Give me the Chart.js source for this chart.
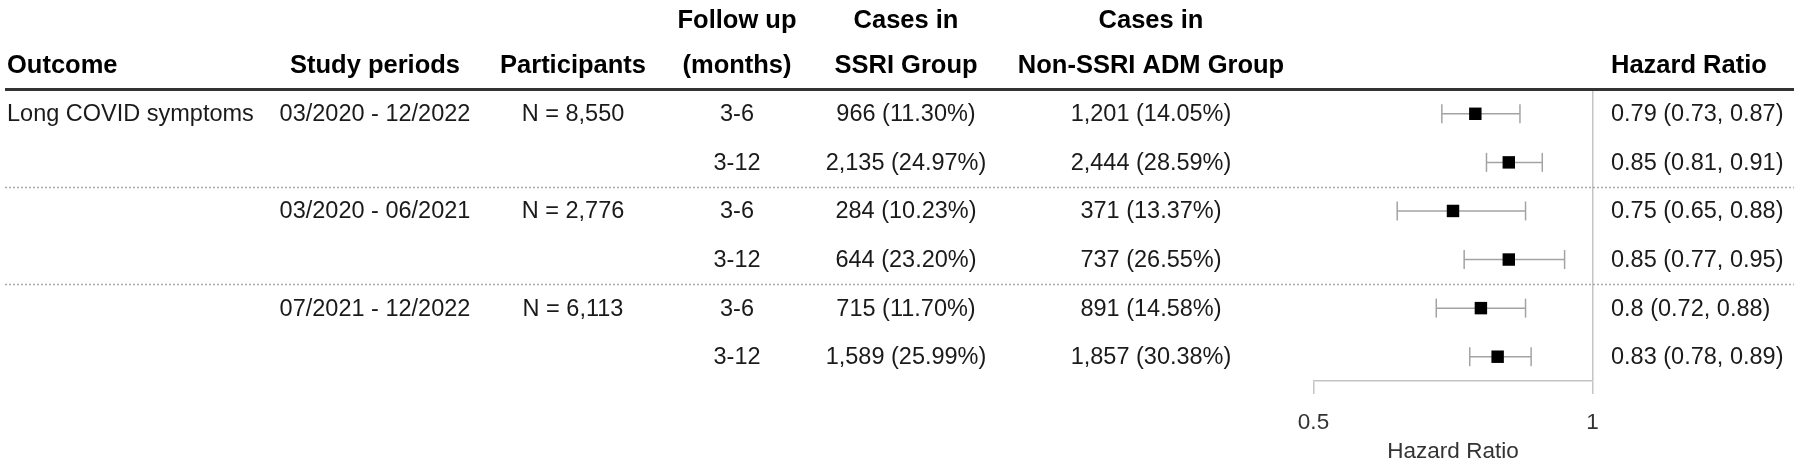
<!DOCTYPE html>
<html><head><meta charset="utf-8">
<script src="https://cdn.jsdelivr.net/npm/chart.js@4/dist/chart.umd.min.js"></script>
<style>html,body{margin:0;padding:0;background:#fff;} #wrap{width:1800px;height:464px;}</style>
</head><body><div id="wrap"><canvas id="c" width="1800" height="464"></canvas></div>
<script>
// ---- data ----
const outcomes = ['Long COVID symptoms', '', '', '', '', ''];
const studyPeriods = ['03/2020 - 12/2022', '', '03/2020 - 06/2021', '', '07/2021 - 12/2022', ''];
const participants = ['N = 8,550', '', 'N = 2,776', '', 'N = 6,113', ''];
const followUp = ['3-6', '3-12', '3-6', '3-12', '3-6', '3-12'];
const casesSSRI = ['966 (11.30%)', '2,135 (24.97%)', '284 (10.23%)', '644 (23.20%)', '715 (11.70%)', '1,589 (25.99%)'];
const casesNonSSRI = ['1,201 (14.05%)', '2,444 (28.59%)', '371 (13.37%)', '737 (26.55%)', '891 (14.58%)', '1,857 (30.38%)'];
const hazardRatio = [0.79, 0.85, 0.75, 0.85, 0.8, 0.83];
const ciLower = [0.73, 0.81, 0.65, 0.77, 0.72, 0.78];
const ciUpper = [0.87, 0.91, 0.88, 0.95, 0.88, 0.89];
const xTicks = [0.5, 1];
const xTitle = 'Hazard Ratio';
const headerLine1 = ['', '', '', 'Follow up', 'Cases in', 'Cases in', ''];
const headerLine2 = ['Outcome', 'Study periods', 'Participants', '(months)', 'SSRI Group', 'Non-SSRI ADM Group', 'Hazard Ratio'];
const separatorsAfter = [2, 4];

// ---- layout / style ----
const FONT = '"Liberation Sans", Arial, Helvetica, sans-serif';
const colX = [7, 375, 573, 737, 906, 1151, 1611];
const colAlign = ['left', 'center', 'center', 'center', 'center', 'center', 'left'];
const rowIdx = hazardRatio.map((_, i) => i + 1);
const hrText = hazardRatio.map((v, i) => `${v} (${ciLower[i]}, ${ciUpper[i]})`);
const columns = [outcomes, studyPeriods, participants, followUp, casesSSRI, casesNonSSRI, hrText];

const tablePlugin = {
  id: 'tablePlugin',
  beforeDatasetsDraw(chart) {
    const ctx = chart.ctx, y = chart.scales.y;
    ctx.save();
    ctx.strokeStyle = '#a8a8a8';
    ctx.lineWidth = 1.5;
    ctx.setLineDash([2, 2]);
    separatorsAfter.forEach(r => {
      const py = Math.round(y.getPixelForValue(r + 0.5)) + 0.5;
      ctx.beginPath(); ctx.moveTo(5, py); ctx.lineTo(1794, py); ctx.stroke();
    });
    ctx.setLineDash([]);
    const hy = y.getPixelForValue(0.5);
    ctx.strokeStyle = '#333';
    ctx.lineWidth = 3;
    ctx.beginPath(); ctx.moveTo(5, hy); ctx.lineTo(1794, hy); ctx.stroke();
    ctx.restore();
  },
  afterDraw(chart) {
    const ctx = chart.ctx, y = chart.scales.y;
    ctx.save();
    ctx.textBaseline = 'middle';
    ctx.fillStyle = '#000';
    ctx.font = 'bold 25.5px ' + FONT;
    const h2 = y.getPixelForValue(0) + 1;
    const h1 = h2 - 45;
    headerLine1.forEach((t, c) => { ctx.textAlign = colAlign[c]; ctx.fillText(t, colX[c], h1); });
    headerLine2.forEach((t, c) => { ctx.textAlign = colAlign[c]; ctx.fillText(t, colX[c], h2); });
    ctx.fillStyle = '#1a1a1a';
    ctx.font = '23.5px ' + FONT;
    columns.forEach((col, c) => {
      ctx.textAlign = colAlign[c];
      col.forEach((t, r) => { if (t) ctx.fillText(t, colX[c], y.getPixelForValue(rowIdx[r]) + 1); });
    });
    ctx.restore();
  }
};

const datasets = [{
  type: 'scatter',
  label: 'HR',
  data: hazardRatio.map((v, i) => ({ x: v, y: rowIdx[i] })),
  pointStyle: 'rect',
  pointRadius: 8.8,
  backgroundColor: '#000',
  borderWidth: 0,
  order: 0,
  clip: false
}];
hazardRatio.forEach((v, i) => {
  datasets.push({
    type: 'line',
    label: 'CI ' + i,
    data: [{ x: ciLower[i], y: rowIdx[i] }, { x: ciUpper[i], y: rowIdx[i] }],
    borderColor: '#a3a3a3',
    borderWidth: 1.5,
    pointStyle: 'line',
    pointRotation: 90,
    pointRadius: 9.5,
    pointBorderColor: '#a3a3a3',
    pointBorderWidth: 1.5,
    fill: false,
    order: 1,
    clip: false
  });
});

new Chart(document.getElementById('c'), {
  type: 'scatter',
  data: { datasets },
  options: {
    responsive: false,
    animation: false,
    devicePixelRatio: 1,
    events: [],
    layout: { padding: { left: 1313.5, right: 207.5, top: 89.5, bottom: 0 } },
    plugins: { legend: { display: false }, tooltip: { enabled: false } },
    scales: {
      x: {
        type: 'linear', min: 0.5, max: 1, position: 'bottom',
        afterBuildTicks: s => { s.ticks = xTicks.map(v => ({ value: v })); },
        afterFit: s => { s.height = 83; },
        ticks: { callback: v => String(v), color: '#333', font: { family: FONT, size: 22.5 }, padding: 15, maxRotation: 0, autoSkip: false },
        grid: {
          drawOnChartArea: true,
          color: c => (c.tick && c.tick.value === 1) ? '#c4c4c4' : 'rgba(0,0,0,0)',
          lineWidth: 1.5, tickLength: 13, tickColor: '#c4c4c4', tickWidth: 1.5
        },
        border: { display: true, color: '#c4c4c4', width: 1.5 },
        title: { display: true, text: xTitle, color: '#333', font: { family: FONT, size: 22.5, lineHeight: 1 }, padding: { top: 0, bottom: 1 } }
      },
      y: { type: 'linear', min: 0.5, max: 6.5, reverse: true, display: false }
    }
  },
  plugins: [tablePlugin]
});
</script>
</body></html>
